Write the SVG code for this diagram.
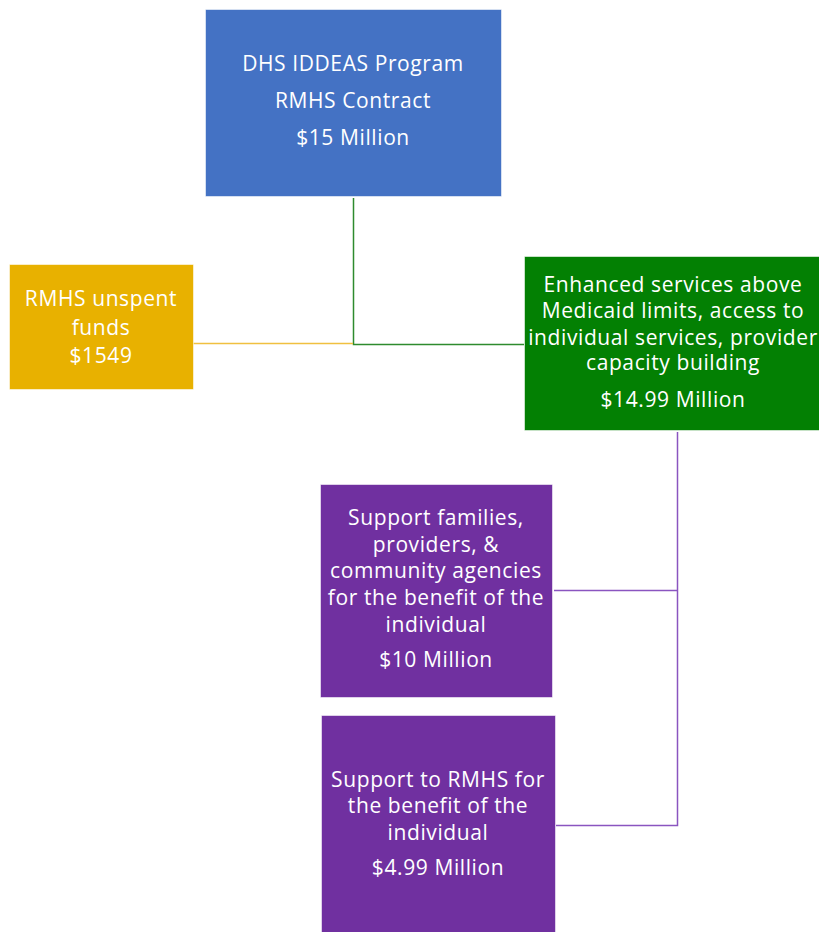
<svg xmlns="http://www.w3.org/2000/svg" width="819" height="932" viewBox="0 0 819 932">
<style>
.t{font-family:"Open Sans","Noto Sans","Liberation Sans",sans-serif;font-size:21px;letter-spacing:0.6px;fill:#ffffff;text-anchor:middle}
.box{stroke:#ffffff;stroke-opacity:0.55;stroke-width:1}
.c{fill:none;stroke-width:1.5}
</style>
<rect width="819" height="932" fill="#ffffff"/>
<g id="connectors">
<path class="c" d="M353.5,198 V344.5 H524" stroke="#2e8b2e"/>
<path class="c" d="M193,343.5 H353" stroke="#f0c040"/>
<path class="c" d="M677.5,432 V825.5 H556" stroke="#8a55c0"/>
<path class="c" d="M554,590.5 H677" stroke="#8a55c0"/>
</g>
<g id="dhs">
<rect class="box" x="205.5" y="9.5" width="296" height="187" fill="#4472C4"/>
<text class="t" x="353" y="71">DHS IDDEAS Program</text>
<text class="t" x="353" y="108">RMHS Contract</text>
<text class="t" x="353" y="145">$15 Million</text>
</g>
<g id="unspent">
<rect class="box" x="9.5" y="264.5" width="184" height="125" fill="#E8B100"/>
<text class="t" x="101" y="306">RMHS unspent</text>
<text class="t" x="101" y="335">funds</text>
<text class="t" x="101" y="363">$1549</text>
</g>
<g id="enhanced">
<rect class="box" x="524.5" y="256.5" width="296" height="174" fill="#038003"/>
<text class="t" x="673" y="292">Enhanced services above</text>
<text class="t" x="673" y="318">Medicaid limits, access to</text>
<text class="t" x="673" y="345">individual services, provider</text>
<text class="t" x="673" y="370">capacity building</text>
<text class="t" x="673" y="407">$14.99 Million</text>
</g>
<g id="families">
<rect class="box" x="320.5" y="484.5" width="232" height="213" fill="#7030A0"/>
<text class="t" x="436" y="525">Support families,</text>
<text class="t" x="436" y="552">providers, &amp;</text>
<text class="t" x="436" y="578">community agencies</text>
<text class="t" x="436" y="605">for the benefit of the</text>
<text class="t" x="436" y="632">individual</text>
<text class="t" x="436" y="667">$10 Million</text>
</g>
<g id="rmhs">
<rect class="box" x="321.5" y="715.5" width="234" height="220" fill="#7030A0"/>
<text class="t" x="438" y="787">Support to RMHS for</text>
<text class="t" x="438" y="813">the benefit of the</text>
<text class="t" x="438" y="840">individual</text>
<text class="t" x="438" y="875">$4.99 Million</text>
</g>
</svg>
